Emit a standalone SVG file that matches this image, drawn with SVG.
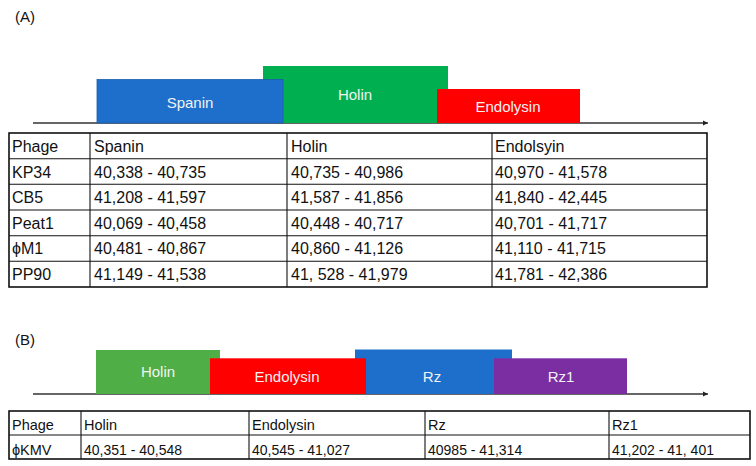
<svg xmlns="http://www.w3.org/2000/svg" width="756" height="466" viewBox="0 0 756 466">
<style>
  .lbl{font-family:"Liberation Sans",Arial,sans-serif;font-size:15px;fill:#f2f2f2;text-anchor:middle}
  .cap{font-family:"Liberation Sans",Arial,sans-serif;font-size:15px;fill:#111}
  .ta{font-family:"Liberation Sans",Arial,sans-serif;font-size:16px;fill:#111}
  .tn{font-family:"Liberation Sans",Arial,sans-serif;font-size:16px;fill:#111}
  .tb{font-family:"Liberation Sans",Arial,sans-serif;font-size:14.5px;fill:#111}
  .tbn{font-family:"Liberation Sans",Arial,sans-serif;font-size:14px;fill:#111}
  .outer{fill:none;stroke:#111;stroke-width:1.6}
  .grid{stroke:#111;stroke-width:1.1}
  .axis{stroke:#333;stroke-width:1.5;fill:none}
</style>
<defs>
  <marker id="arr" markerWidth="6" markerHeight="6" refX="5" refY="3" orient="auto" markerUnits="userSpaceOnUse">
    <path d="M0,0.5 L5,3 L0,5.5 Z" fill="#222"/>
  </marker>
</defs>
<rect width="756" height="466" fill="#ffffff"/>

<text class="cap" x="15" y="22">(A)</text>
<text class="cap" x="15" y="345">(B)</text>

<g id="connectors">
  <line class="axis" x1="33" y1="123" x2="708" y2="123" marker-end="url(#arr)"/>
  <line class="axis" x1="33" y1="394" x2="708" y2="394" marker-end="url(#arr)"/>
</g>

<g id="holin-a">
  <rect x="263" y="66" width="185" height="57" fill="#00B050"/>
  <text class="lbl" x="355" y="100">Holin</text>
</g>
<g id="spanin-a">
  <rect x="97" y="79.5" width="186" height="43.5" fill="#1E6FCB" stroke="#1a5eae" stroke-width="0.8"/>
  <text class="lbl" x="190" y="108">Spanin</text>
</g>
<g id="endolysin-a">
  <rect x="437" y="89" width="143" height="34" fill="#FF0000"/>
  <text class="lbl" x="508" y="112">Endolysin</text>
</g>

<g id="table-a">
  <rect class="outer" x="9" y="133" width="698" height="154"/>
  <line class="grid" x1="9" y1="158.7" x2="707" y2="158.7"/>
  <line class="grid" x1="9" y1="184.3" x2="707" y2="184.3"/>
  <line class="grid" x1="9" y1="210" x2="707" y2="210"/>
  <line class="grid" x1="9" y1="235.7" x2="707" y2="235.7"/>
  <line class="grid" x1="9" y1="261.3" x2="707" y2="261.3"/>
  <line class="grid" x1="90" y1="133" x2="90" y2="287"/>
  <line class="grid" x1="287" y1="133" x2="287" y2="287"/>
  <line class="grid" x1="492" y1="133" x2="492" y2="287"/>
  <text class="ta" x="12" y="152">Phage</text>
  <text class="ta" x="94" y="152">Spanin</text>
  <text class="ta" x="291" y="152">Holin</text>
  <text class="ta" x="495" y="152">Endolsyin</text>
  <text class="ta" x="12" y="177.5">KP34</text>
  <text class="tn" x="94" y="177.5">40,338 - 40,735</text>
  <text class="tn" x="291" y="177.5">40,735 - 40,986</text>
  <text class="tn" x="495" y="177.5">40,970 - 41,578</text>
  <text class="ta" x="12" y="203">CB5</text>
  <text class="tn" x="94" y="203">41,208 - 41,597</text>
  <text class="tn" x="291" y="203">41,587 - 41,856</text>
  <text class="tn" x="495" y="203">41,840 - 42,445</text>
  <text class="ta" x="12" y="228.5">Peat1</text>
  <text class="tn" x="94" y="228.5">40,069 - 40,458</text>
  <text class="tn" x="291" y="228.5">40,448 - 40,717</text>
  <text class="tn" x="495" y="228.5">40,701 - 41,717</text>
  <text class="ta" x="12" y="254">ϕM1</text>
  <text class="tn" x="94" y="254">40,481 - 40,867</text>
  <text class="tn" x="291" y="254">40,860 - 41,126</text>
  <text class="tn" x="495" y="254">41,110 - 41,715</text>
  <text class="ta" x="12" y="280">PP90</text>
  <text class="tn" x="94" y="280">41,149 - 41,538</text>
  <text class="tn" x="291" y="280">41, 528 - 41,979</text>
  <text class="tn" x="495" y="280">41,781 - 42,386</text>
</g>

<g id="holin-b">
  <rect x="96" y="350" width="124" height="44" fill="#4FAE45"/>
  <text class="lbl" x="158" y="377">Holin</text>
</g>
<g id="rz-b">
  <rect x="355" y="349.5" width="157" height="44.5" fill="#1E6FCB"/>
  <text class="lbl" x="432" y="381.5">Rz</text>
</g>
<g id="endolysin-b">
  <rect x="210" y="358.3" width="156" height="35.7" fill="#FF0000"/>
  <text class="lbl" x="287" y="381.5">Endolysin</text>
</g>
<g id="rz1-b">
  <rect x="494" y="358.3" width="133" height="35.7" fill="#7B2DA2"/>
  <text class="lbl" x="561" y="381.5">Rz1</text>
</g>

<g id="table-b">
  <rect class="outer" x="9" y="411" width="741" height="48"/>
  <line class="grid" x1="9" y1="435" x2="750" y2="435"/>
  <line class="grid" x1="81" y1="411" x2="81" y2="459"/>
  <line class="grid" x1="249" y1="411" x2="249" y2="459"/>
  <line class="grid" x1="425" y1="411" x2="425" y2="459"/>
  <line class="grid" x1="609" y1="411" x2="609" y2="459"/>
  <text class="tb" x="12" y="430">Phage</text>
  <text class="tb" x="84" y="430">Holin</text>
  <text class="tb" x="252" y="430">Endolysin</text>
  <text class="tb" x="428" y="430">Rz</text>
  <text class="tb" x="612" y="430">Rz1</text>
  <text class="tb" x="12" y="454.5">ϕKMV</text>
  <text class="tbn" x="84" y="454.5">40,351 - 40,548</text>
  <text class="tbn" x="252" y="454.5">40,545 - 41,027</text>
  <text class="tbn" x="428" y="454.5">40985 - 41,314</text>
  <text class="tbn" x="612" y="454.5">41,202 - 41, 401</text>
</g>
</svg>
